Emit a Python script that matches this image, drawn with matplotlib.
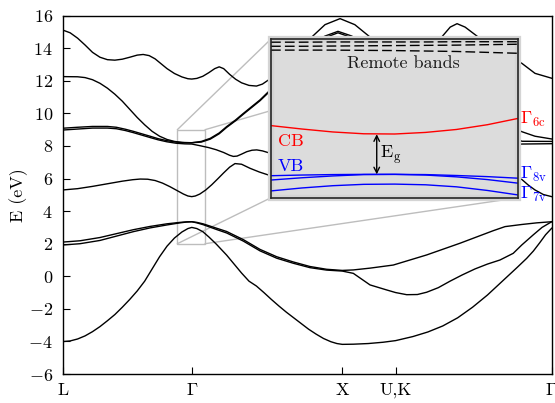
import matplotlib
matplotlib.use('Agg')
import matplotlib.pyplot as plt
from matplotlib.patches import Rectangle, ConnectionPatch
import numpy as np

plt.rcParams['font.family'] = 'serif'
plt.rcParams['font.serif'] = ['cmr10']
plt.rcParams['mathtext.fontset'] = 'cm'
plt.rcParams['axes.formatter.use_mathtext'] = True

# ---------------- data ----------------
kpoint_labels = ['L', r'$\Gamma$', 'X', 'U,K', r'$\Gamma$']
kpoint_pos = [0.0, 0.866, 1.876, 2.234, 3.281]
yticks = [-6, -4, -2, 0, 2, 4, 6, 8, 10, 12, 14, 16]

# valence bands (k, E)
band_so_k = [0.0, 0.05, 0.10, 0.15, 0.20, 0.25, 0.30, 0.35, 0.40, 0.45, 0.50, 0.55, 0.60, 0.65, 0.70,
             0.75, 0.80, 0.84, 0.866, 0.90, 0.94, 0.98, 1.03, 1.10, 1.15, 1.20, 1.25, 1.30, 1.35, 1.40,
             1.45, 1.50, 1.55, 1.60, 1.65, 1.70, 1.75, 1.80, 1.84, 1.876, 1.95, 2.05, 2.15, 2.234, 2.35,
             2.45, 2.55, 2.65, 2.75, 2.85, 2.95, 3.05, 3.113, 3.158, 3.20, 3.24, 3.281]
band_so_E = [-4.01, -3.97, -3.85, -3.66, -3.40, -3.09, -2.73, -2.35, -1.90, -1.42, -0.90, -0.30, 0.45,
             1.20, 1.85, 2.35, 2.72, 2.93, 3.00, 2.93, 2.74, 2.42, 1.98, 1.30, 0.75, 0.20, -0.30, -0.60,
             -1.00, -1.42, -1.82, -2.20, -2.55, -2.90, -3.25, -3.55, -3.82, -4.02, -4.13, -4.18, -4.17,
             -4.13, -4.05, -3.95, -3.70, -3.42, -3.05, -2.55, -1.90, -1.15, -0.30, 0.55, 1.10, 1.55,
             2.05, 2.55, 2.95]

band_hh_k = [0.0, 0.116, 0.250, 0.362, 0.474, 0.586, 0.698, 0.787, 0.83, 0.866, 0.90, 0.942, 1.033,
             1.100, 1.212, 1.324, 1.436, 1.547, 1.659, 1.771, 1.876, 1.950, 2.062, 2.218, 2.442, 2.666,
             2.889, 2.968, 3.080, 3.180, 3.281]
band_hh_E = [2.10, 2.18, 2.38, 2.62, 2.86, 3.06, 3.22, 3.31, 3.34, 3.35, 3.31, 3.22, 2.95,
             2.75, 2.25, 1.65, 1.20, 0.88, 0.60, 0.43, 0.36, 0.39, 0.50, 0.69, 1.31, 2.03,
             2.80, 3.05, 3.18, 3.28, 3.35]

band_lh_k = [0.0, 0.116, 0.250, 0.362, 0.474, 0.586, 0.698, 0.787, 0.83, 0.866, 0.90, 0.942, 1.033,
             1.100, 1.212, 1.324, 1.436, 1.547, 1.659, 1.771, 1.876, 1.950, 2.062, 2.174, 2.234, 2.308,
             2.380, 2.442, 2.520, 2.599, 2.680, 2.766, 2.850, 2.934, 3.023, 3.080, 3.158, 3.216, 3.281]
band_lh_E = [1.92, 2.00, 2.20, 2.47, 2.74, 2.97, 3.15, 3.28, 3.33, 3.35, 3.28, 3.17, 2.87,
             2.66, 2.16, 1.56, 1.11, 0.80, 0.53, 0.38, 0.32, 0.18, -0.53, -0.84, -1.00, -1.13,
             -1.12, -0.98, -0.70, -0.30, 0.08, 0.45, 0.75, 1.00, 1.41, 1.92, 2.55, 3.00, 3.35]

# conduction bands (k, E)
band_c1_k = [0.0, 0.10, 0.20, 0.30, 0.40, 0.47, 0.52, 0.57, 0.62, 0.67, 0.72, 0.77, 0.81, 0.84, 0.866,
             0.89, 0.92, 0.96, 1.00, 1.04, 1.08, 1.12, 1.156, 1.20, 1.257, 1.32, 1.38, 1.60, 1.876, 2.234,
             2.700, 3.080, 3.124, 3.169, 3.225, 3.281]
band_c1_E = [5.30, 5.38, 5.52, 5.68, 5.84, 5.93, 5.97, 5.96, 5.88, 5.72, 5.50, 5.25, 5.05, 4.93, 4.89,
             4.93, 5.05, 5.30, 5.62, 5.98, 6.35, 6.70, 6.92, 6.88, 6.63, 6.40, 6.22, 5.90, 5.70, 6.00,
             6.50, 5.95, 5.60, 5.30, 5.02, 4.89]

band_c2_k = [0.0, 0.10, 0.20, 0.30, 0.36, 0.42, 0.474, 0.53, 0.586, 0.64, 0.698, 0.76, 0.82, 0.866,
             0.92, 0.98, 1.03, 1.08, 1.12, 1.145, 1.17, 1.20, 1.235, 1.27, 1.302, 1.34, 1.38, 1.876,
             2.600, 3.080, 3.281]
band_c2_E = [8.98, 9.04, 9.10, 9.10, 9.06, 8.95, 8.82, 8.67, 8.52, 8.38, 8.26, 8.17, 8.13, 8.12,
             8.02, 7.90, 7.77, 7.60, 7.43, 7.36, 7.38, 7.50, 7.65, 7.74, 7.76, 7.70, 7.59, 6.50,
             7.50, 8.12, 8.14]

band_c3_k = [0.0, 0.10, 0.20, 0.30, 0.36, 0.42, 0.474, 0.53, 0.586, 0.64, 0.698, 0.76, 0.82, 0.866,
             0.93, 0.99, 1.05, 1.10, 1.16, 1.212, 1.27, 1.324, 1.38, 1.547, 1.671, 1.760, 1.847, 1.940,
             2.062, 2.600, 3.080, 3.281]
band_c3_E = [9.09, 9.15, 9.20, 9.20, 9.15, 9.03, 8.90, 8.75, 8.60, 8.45, 8.33, 8.24, 8.20, 8.20,
             8.24, 8.42, 8.75, 9.14, 9.55, 9.95, 10.38, 10.78, 11.27, 13.10, 14.20, 14.65, 14.95, 14.65,
             13.90, 11.00, 8.29, 8.28]

band_c4_k = [0.0, 0.10, 0.15, 0.20, 0.25, 0.30, 0.35, 0.40, 0.45, 0.50, 0.55, 0.60, 0.65, 0.70, 0.75,
             0.80, 0.866, 0.93, 0.99, 1.05, 1.10, 1.16, 1.212, 1.27, 1.324, 1.38, 1.547, 1.671, 1.760,
             1.847, 1.940, 2.062, 2.600, 3.080, 3.169, 3.281]
band_c4_E = [12.26, 12.25, 12.20, 12.07, 11.85, 11.55, 11.18, 10.75, 10.25, 9.75, 9.30, 8.90, 8.60,
             8.40, 8.28, 8.22, 8.20, 8.28, 8.47, 8.80, 9.19, 9.60, 10.00, 10.43, 10.83, 11.33, 13.20,
             14.30, 14.75, 15.04, 14.75, 14.00, 11.00, 8.88, 8.60, 8.43]

band_c5_k = [0.0, 0.05, 0.10, 0.15, 0.20, 0.25, 0.30, 0.35, 0.40, 0.45, 0.50, 0.54, 0.58, 0.62, 0.66,
             0.70, 0.75, 0.80, 0.84, 0.866, 0.90, 0.94, 0.98, 1.02, 1.05, 1.08, 1.12, 1.16, 1.20, 1.25,
             1.30, 1.34, 1.38, 1.520, 1.671, 1.760, 1.861, 1.960, 2.062, 2.234, 2.420, 2.543, 2.600,
             2.646, 2.700, 2.788, 2.900, 3.000, 3.080, 3.169, 3.281]
band_c5_E = [15.12, 14.95, 14.62, 14.20, 13.75, 13.45, 13.30, 13.27, 13.33, 13.45, 13.58, 13.62, 13.55,
             13.35, 13.05, 12.75, 12.45, 12.24, 12.13, 12.11, 12.15, 12.28, 12.50, 12.75, 12.86, 12.75,
             12.40, 12.10, 11.88, 11.72, 11.68, 11.80, 12.05, 13.50, 14.69, 15.45, 15.82, 15.45, 14.69,
             13.50, 13.80, 14.69, 15.30, 15.51, 15.30, 14.69, 14.00, 13.45, 13.08, 12.46, 12.16]

bands = [(band_so_k, band_so_E), (band_hh_k, band_hh_E), (band_lh_k, band_lh_E),
         (band_c1_k, band_c1_E), (band_c2_k, band_c2_E), (band_c3_k, band_c3_E),
         (band_c4_k, band_c4_E), (band_c5_k, band_c5_E)]

# zoom window around Gamma
zoom_k = [0.769, 0.955]
zoom_E = [2.0, 9.0]

# inset (schematic) data
ins_k = [-1.0, -0.75, -0.5, -0.25, 0.0, 0.25, 0.5, 0.75, 1.0]
ins_cb = [5.18, 5.03, 4.90, 4.82, 4.81, 4.88, 5.01, 5.22, 5.50]
ins_hh = [2.97, 3.00, 3.02, 3.03, 3.03, 3.02, 2.98, 2.93, 2.86]
ins_lh = [2.78, 2.88, 2.96, 3.02, 3.03, 3.00, 2.92, 2.80, 2.64]
ins_so = [2.30, 2.43, 2.53, 2.59, 2.60, 2.57, 2.48, 2.32, 2.12]
ins_rem1 = [8.86, 8.86, 8.87, 8.87, 8.87, 8.87, 8.88, 8.88, 8.88]
ins_rem2 = [8.68, 8.68, 8.69, 8.70, 8.71, 8.72, 8.73, 8.75, 8.77]
ins_rem3 = [8.51, 8.51, 8.51, 8.50, 8.49, 8.47, 8.45, 8.41, 8.37]
gap_k = -0.145
gap_E = [4.80, 3.03]

# ---------------- figure ----------------
fig = plt.figure(figsize=(5.55, 4.03), dpi=100)
ax = fig.add_axes([0.11297, 0.07196, 0.88108, 0.88908])

for kk, ee in bands:
    ax.plot(kk, ee, color='black', lw=1.0, solid_joinstyle='round')

ax.set_xlim(kpoint_pos[0], kpoint_pos[-1])
ax.set_ylim(-6, 16)
ax.set_xticks(kpoint_pos)
ax.set_xticklabels(kpoint_labels)
ax.set_yticks(yticks)
ax.tick_params(direction='in', length=5, width=0.8, labelsize=13, top=False, right=False)
ax.tick_params(axis='x', pad=6)
ax.tick_params(axis='y', pad=7)
for s in ax.spines.values():
    s.set_linewidth(1.0)
fig.text(19 / 555, 1 - 195 / 403, 'E (eV)', rotation=90, ha='center', va='center', fontsize=13)

# zoom rectangle
zc = '#bdbdbd'
ax.add_patch(Rectangle((zoom_k[0], zoom_E[0]), zoom_k[1] - zoom_k[0], zoom_E[1] - zoom_E[0],
                       fill=False, edgecolor=zc, lw=1.0, zorder=1))

# inset
axins = fig.add_axes([0.4883, 0.5094, 0.4456, 0.3938])
axins.set_facecolor('#dcdcdc')
axins.set_xlim(-1, 1)
axins.set_ylim(2, 9)
axins.set_xticks([])
axins.set_yticks([])
for s in axins.spines.values():
    s.set_linewidth(1.2)
    s.set_edgecolor('#262626')
axins.add_patch(Rectangle((0, 0), 1, 1, transform=axins.transAxes, fill=False,
                          edgecolor='#d4d4d4', lw=4.5, clip_on=False, zorder=0.5))

# connector lines (behind inset)
corners = [((zoom_k[0], zoom_E[1]), (0, 1)), ((zoom_k[1], zoom_E[1]), (1, 1)),
           ((zoom_k[0], zoom_E[0]), (0, 0)), ((zoom_k[1], zoom_E[0]), (1, 0))]
for pa, pb in corners:
    cp = ConnectionPatch(xyA=pa, coordsA=ax.transData, xyB=pb, coordsB=axins.transAxes,
                         color=zc, lw=1.0, zorder=1)
    ax.add_artist(cp)

axins.plot(ins_k, ins_cb, color='red', lw=1.0)
axins.plot(ins_k, ins_hh, color='blue', lw=1.0)
axins.plot(ins_k, ins_lh, color='blue', lw=1.0)
axins.plot(ins_k, ins_so, color='blue', lw=1.0)
for r in (ins_rem1, ins_rem2, ins_rem3):
    axins.plot(ins_k, r, color='black', lw=1.0, dashes=(7, 3))

axins.annotate('', xy=(gap_k, gap_E[0]), xytext=(gap_k, gap_E[1]),
               arrowprops=dict(arrowstyle='<->', color='black', lw=1.0, shrinkA=0, shrinkB=0))
axins.text(gap_k + 0.03, 3.88, r'$\mathrm{E_g}$', fontsize=13, ha='left', va='center')
axins.text(0.07, 7.93, 'Remote bands', fontsize=13, ha='center', va='center', color='#1a1a1a')
axins.text(-0.84, 4.50, 'CB', fontsize=13, color='red', ha='center', va='center')
axins.text(-0.84, 3.38, 'VB', fontsize=13, color='blue', ha='center', va='center')
axins.text(1.01, 5.45, r'$\Gamma_{\mathrm{6c}}$', fontsize=13, color='red', ha='left', va='center')
axins.text(1.01, 3.03, r'$\Gamma_{\mathrm{8v}}$', fontsize=13, color='blue', ha='left', va='center')
axins.text(1.01, 2.15, r'$\Gamma_{\mathrm{7v}}$', fontsize=13, color='blue', ha='left', va='center')

fig.savefig('out.png', dpi=100)
